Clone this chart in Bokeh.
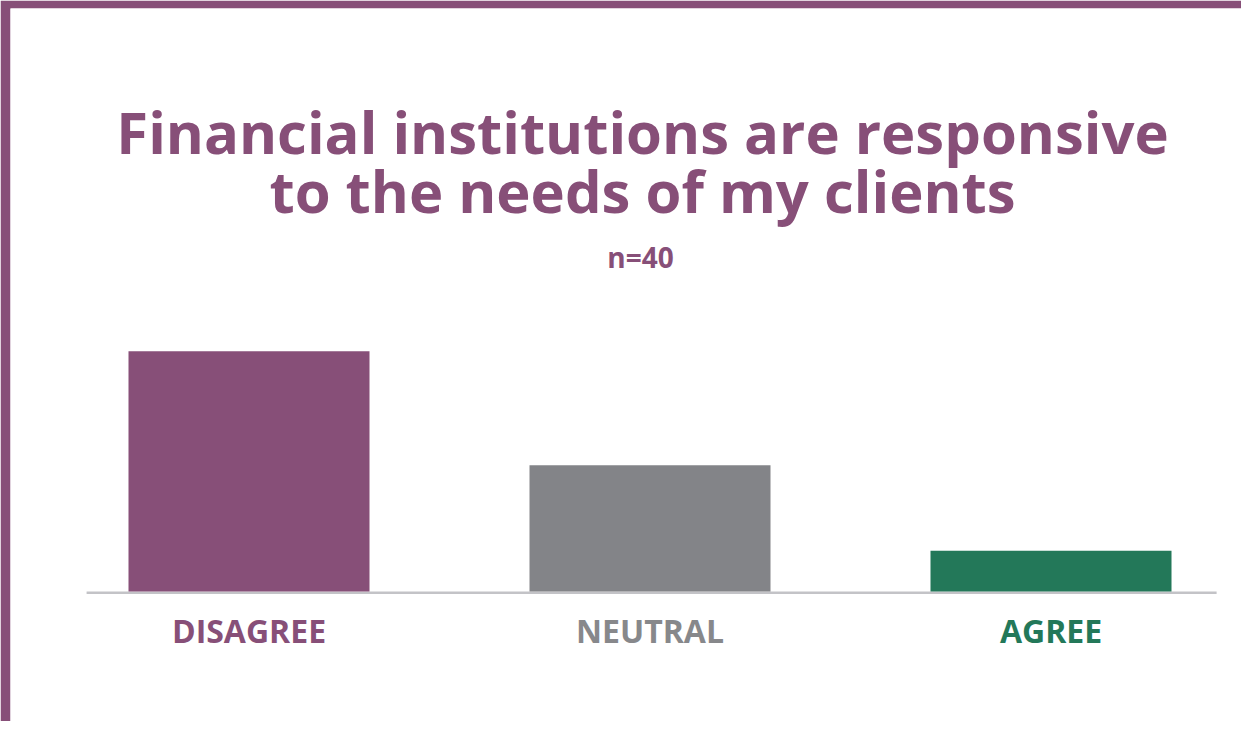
from bokeh.plotting import figure
from bokeh.models import Range1d, ColumnDataSource
from bokeh.core.properties import value
from bokeh.embed import file_html
from bokeh.resources import INLINE

# ---- data ----
categories = ["DISAGREE", "NEUTRAL", "AGREE"]
percent = [59, 31, 10]
bar_colors = ["#874F78", "#838488", "#237859"]
label_colors = ["#874F78", "#87888B", "#237859"]
title_lines = ["Financial institutions are responsive", "to the needs of my clients"]
subtitle = "n=40"

PURPLE = "#874F78"

# ---- layout (pixels) ----
W, H = 1241, 721
BAND_L, BAND_T = 10, 8
frame_w, frame_h = W - BAND_L, H - BAND_T
first_center_px = 238.5
step_px = 401.0
baseline_px = 583.0          # from frame top
ppu = 4.07                   # pixels per percent

x_range = Range1d(-first_center_px / step_px, (frame_w - first_center_px) / step_px)
y_range = Range1d(-(frame_h - baseline_px) / ppu, baseline_px / ppu)

p = figure(width=W, height=H, x_range=x_range, y_range=y_range,
           output_backend="svg", toolbar_location=None, title=None,
           min_border_left=BAND_L, min_border_top=BAND_T,
           min_border_right=0, min_border_bottom=0)
p.border_fill_color = PURPLE
p.background_fill_color = "white"
p.outline_line_color = None
p.axis.visible = False
p.grid.visible = False

idx = list(range(len(categories)))
src = ColumnDataSource(dict(x=idx, top=percent, color=bar_colors,
                            label=categories, lcolor=label_colors,
                            ly=[-39 / ppu] * len(categories)))

# baseline
p.segment(x0=[-0.405], y0=[-0.3], x1=[len(categories) - 1 + 0.413], y1=[-0.3],
          line_color="#C3C3C7", line_width=2.5)

p.vbar(x="x", top="top", bottom=0, width=0.601, fill_color="color",
       line_color=None, source=src)

p.text(x="x", y="ly", text="label", text_color="lcolor", source=src,
       text_font=value("Open Sans"), text_font_style="bold",
       text_font_size="32px", text_align="center", text_baseline="alphabetic")

center_x = 1 - 7.5 / step_px
title_y = [460 / ppu, 401 / ppu]
p.text(x=[center_x] * 2, y=title_y, text=title_lines, text_color=PURPLE,
       text_font=value("Open Sans"), text_font_style="bold",
       text_font_size="58px", text_align="center", text_baseline="alphabetic")

p.text(x=[1 - 9.5 / step_px], y=[335 / ppu], text=[subtitle], text_color=PURPLE,
       text_font=value("Open Sans"), text_font_style="bold",
       text_font_size="28px", text_align="center", text_baseline="alphabetic")

open("out.html", "w").write(file_html(p, INLINE))
